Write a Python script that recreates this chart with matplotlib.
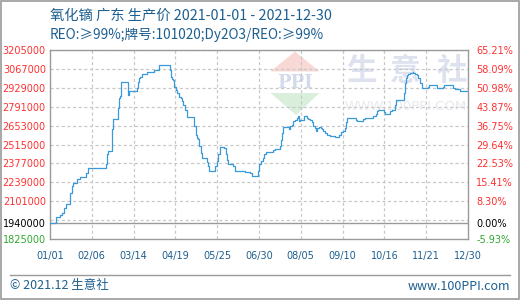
import matplotlib
matplotlib.use('Agg')
import matplotlib.pyplot as plt
from matplotlib.patches import Polygon, Rectangle
from matplotlib.lines import Line2D

# ---- data (step breakpoints: day index, price) ----
days = [0, 4.9, 8.7, 10.1, 12.2, 13.6, 17.4, 18.8, 20.3, 23.7, 26.1, 31.3, 33.3, 34.7,
        48.3, 49.2, 50.1, 54.1, 55.0, 59.3, 59.9, 60.8, 61.4, 62.0, 67.5, 68.0, 68.6,
        75.3, 76.1, 77.0, 78.2, 79.6, 84.5, 90.3, 94.7, 104.2, 105.1, 105.7, 107.1,
        108.0, 109.1, 110.6, 111.7, 113.5, 114.9, 115.8, 117.2, 118.7, 125.1, 126.5,
        127.4, 128.8, 129.7, 131.1, 132.3, 136.1, 136.9, 138.1, 142.7, 143.6, 144.8,
        146.2, 147.6, 151.4, 152.6, 153.7, 154.9, 159.2, 161.0, 169.4, 173.7, 175.1,
        180.9, 181.8, 183.0, 184.7, 186.1, 187.3, 193.4, 195.4, 199.8, 200.6, 201.8,
        202.7, 207.9, 208.4, 209.9, 211.3, 212.8, 214.2, 215.1, 216.0, 217.1, 220.9,
        222.0, 222.9, 224.4, 225.8, 227.3, 228.7, 230.2, 231.0, 232.2, 233.6, 235.1,
        236.5, 237.4, 238.8, 240.3, 243.2, 244.6, 247.5, 251.3, 252.4, 254.8, 256.2,
        257.1, 257.7, 265.8, 266.3, 272.1, 273.6, 280.2, 281.4, 283.1, 284.3, 285.2,
        290.1, 290.9, 295.3, 296.7, 298.2, 299.6, 300.5, 307.4, 308.3, 308.9, 309.8,
        311.2, 312.7, 315.0, 315.6, 317.0, 318.5, 319.9, 321.3, 322.8, 328.0, 329.2,
        336.4, 337.3, 341.0, 342.2, 350.3, 351.7, 356.1, 363]
prices = [1940000, 1988000, 2001000, 2013000, 2054000, 2083000, 2163000, 2212000, 2231000,
          2260000, 2279000, 2308000, 2340000, 2347000, 2374000, 2442000, 2468000, 2628000,
          2701000, 2781000, 2854000, 2866000, 2926000, 2975000, 2926000, 2878000, 2902000,
          2926000, 2975000, 2999000, 3011000, 3028000, 3045000, 3060000, 3094000, 3060000,
          3011000, 2992000, 2987000, 2938000, 2914000, 2890000, 2861000, 2854000, 2829000,
          2805000, 2769000, 2716000, 2648000, 2587000, 2563000, 2556000, 2502000, 2454000,
          2418000, 2386000, 2357000, 2321000, 2325000, 2357000, 2393000, 2442000, 2495000,
          2490000, 2442000, 2405000, 2374000, 2357000, 2323000, 2316000, 2308000, 2284000,
          2321000, 2369000, 2393000, 2418000, 2442000, 2461000, 2478000, 2483000, 2502000,
          2551000, 2599000, 2640000, 2628000, 2648000, 2660000, 2684000, 2696000, 2708000,
          2725000, 2684000, 2696000, 2720000, 2725000, 2708000, 2701000, 2696000, 2677000,
          2648000, 2636000, 2611000, 2636000, 2643000, 2636000, 2628000, 2611000, 2599000,
          2587000, 2580000, 2575000, 2570000, 2587000, 2604000, 2611000, 2636000, 2677000,
          2708000, 2696000, 2689000, 2701000, 2706000, 2720000, 2725000, 2740000, 2757000,
          2764000, 2749000, 2740000, 2757000, 2764000, 2769000, 2805000, 2842000, 2890000,
          2963000, 2999000, 3023000, 3028000, 3040000, 3045000, 3035000, 3028000, 3023000,
          2999000, 2963000, 2926000, 2938000, 2951000, 2931000, 2924000, 2938000, 2951000,
          2931000, 2919000, 2909000, 2909000]

x_labels = ['01/01', '02/06', '03/14', '04/19', '05/25', '06/30',
            '08/05', '09/10', '10/16', '11/21', '12/30']
x_last = 363
base_price = 1940000
y_min, y_max = 1825000, 3205000
grid_values = [3205000, 3067000, 2929000, 2791000, 2653000, 2515000,
               2377000, 2239000, 2101000, 1963000]
label_values = [3205000, 3067000, 2929000, 2791000, 2653000, 2515000,
                2377000, 2239000, 2101000, 1940000, 1825000]

title = '氧化镝 广东 生产价 2021-01-01 - 2021-12-30'
subtitle = 'REO:≥99%;牌号:101020;Dy2O3/REO:≥99%'
footer_left = '© 2021.12 生意社'
footer_right = 'www.100PPI.com'

# ---- style ----
blue_text = '#1d5f8f'
line_color = '#3a9ad9'
red = '#ff3030'
green = '#2ea82e'
grid_color = '#c8c8c8'
frame_color = '#9a9a9a'
cjk = ['Noto Sans CJK SC', 'DejaVu Sans']

fig = plt.figure(figsize=(5.2, 3.0), dpi=100)
fig.patch.set_facecolor('white')
W, H = 520, 300

def fx(px):
    return px / W

def fy(py):
    return 1 - py / H

ax = fig.add_axes([fx(50), fy(239), fx(468) - fx(50), fy(50) - fy(239)])
ax.set_xlim(0, x_last)
ax.set_ylim(y_min, y_max)
ax.patch.set_alpha(0)

# watermark (axes fraction coordinates)
def axp(px, py):
    return ((px - 50) / 418, (239 - py) / 189)

red_tri = Polygon([axp(270.5, 71.5), axp(319.5, 71.5), axp(295, 51.5)], closed=True,
                  transform=ax.transAxes, facecolor='#f9d9d6', edgecolor='none', zorder=0.2)
green_tri = Polygon([axp(270.5, 93), axp(319.5, 93), axp(296, 115)], closed=True,
                    transform=ax.transAxes, facecolor='#d9efdc', edgecolor='none', zorder=0.2)
ax.add_patch(red_tri)
ax.add_patch(green_tri)
ax.text(*axp(295, 82.5), 'PPI', transform=ax.transAxes, ha='center', va='center',
        fontsize=13, fontweight='bold', color='#d3daea', family='DejaVu Serif', zorder=0.3)
for ch, cx in zip('生意社', [361, 405, 452]):
    ax.text(*axp(cx, 71), ch, transform=ax.transAxes, ha='center', va='center',
            fontsize=22, fontweight='bold', color='#dde2ee', family=cjk, zorder=0.3)
ax.text(*axp(406, 106), 'WWW.100PPI.COM', transform=ax.transAxes, ha='center', va='center',
        fontsize=9.5, color='#e6e9ef', zorder=0.3)

# grid
for gv in grid_values:
    ax.axhline(gv, color=grid_color, lw=0.9, ls=(0, (2.5, 2)), zorder=1)
n = len(x_labels) - 1
xticks = [x_last * i / n for i in range(n + 1)]
for xt in xticks[1:-1]:
    ax.axvline(xt, color=grid_color, lw=0.9, ls=(0, (2.5, 2)), zorder=1)
ax.axhline(base_price, color=frame_color, lw=1.0, zorder=1.5)

# data line
ax.step(days, prices, where='post', color=line_color, lw=0.9, zorder=3)

for s in ax.spines.values():
    s.set_color(frame_color)
    s.set_linewidth(1.0)

ax.set_xticks(xticks)
ax.set_xticklabels(x_labels, fontsize=7, color=blue_text)
ax.set_yticks(label_values)
ax.set_yticklabels([str(v) for v in label_values], fontsize=7)
ax.tick_params(axis='both', length=0)
ax.tick_params(axis='x', pad=9)
ax.tick_params(axis='y', pad=3)
for lbl, v in zip(ax.get_yticklabels(), label_values):
    lbl.set_color('black' if v == base_price else (green if v < base_price else red))

ax2 = ax.twinx()
ax2.set_ylim(y_min, y_max)
ax2.set_yticks(label_values)
ax2.set_yticklabels(['%.2f%%' % ((v / base_price - 1) * 100) for v in label_values], fontsize=7)
ax2.tick_params(axis='y', length=0, pad=6)
for lbl, v in zip(ax2.get_yticklabels(), label_values):
    lbl.set_color('black' if v == base_price else (green if v < base_price else red))
for s in ax2.spines.values():
    s.set_visible(False)

# titles
fig.text(fx(50), fy(16), title, fontsize=10.3, color=blue_text, family=cjk, va='center', ha='left')
fig.text(fx(50), fy(34.5), subtitle, fontsize=9.8, color=blue_text, family=cjk, va='center', ha='left')

# footer
fig.add_artist(Line2D([fx(10), fx(510)], [fy(275), fy(275)], color=frame_color, lw=1.0))
fig.text(fx(10), fy(286), footer_left, fontsize=9, color=blue_text, family=cjk, va='center', ha='left')
fig.text(fx(510), fy(286), footer_right, fontsize=9, color=blue_text, family=cjk, va='center', ha='right')

# outer border
fig.add_artist(Rectangle((0.001, 0.002), 0.997, 0.996, transform=fig.transFigure,
                         fill=False, edgecolor=frame_color, lw=1.2))

fig.savefig('out.png', dpi=100)
